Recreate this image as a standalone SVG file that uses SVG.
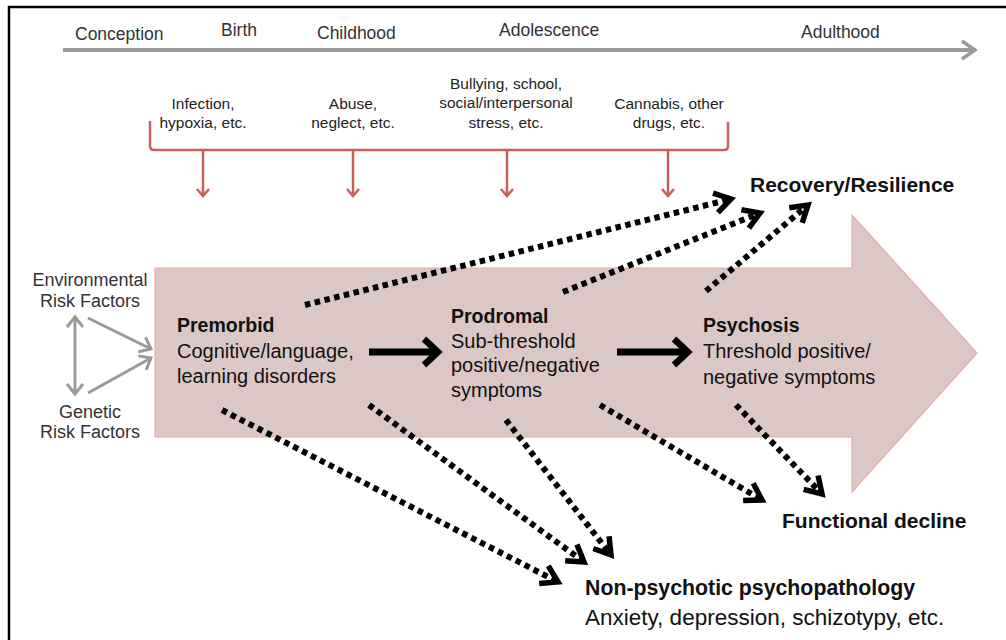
<svg xmlns="http://www.w3.org/2000/svg" width="1006" height="640" viewBox="0 0 1006 640">
<style>
text{font-family:"Liberation Sans",Arial,sans-serif;fill:#111}
.tl{font-size:17.5px;fill:#333}
.sm{font-size:15.5px;fill:#222;text-anchor:middle}
.rf{font-size:18px;fill:#333;text-anchor:middle}
.nt{font-size:19.5px;font-weight:bold}
.nb{font-size:20px}
.ot{font-size:21px;font-weight:bold}
.np{font-size:21.3px;font-weight:bold}
.ob{font-size:22.5px}
.dot{stroke:#000;stroke-width:6;stroke-dasharray:5.5 4.5;fill:none;marker-end:url(#chevK)}
.solid{stroke:#000;stroke-width:7;fill:none}
.red{stroke:#c8605a;stroke-width:2.5;fill:none}
.gray{stroke:#9a9a9a;stroke-width:3;fill:none}
</style>
<defs>
<marker id="chevK" markerUnits="userSpaceOnUse" markerWidth="40" markerHeight="40" refX="20" refY="20" orient="auto" overflow="visible">
<path d="M4 10 L20 20 L4 30" stroke="#000" stroke-width="5.5" fill="none" stroke-dasharray="none"/>
</marker>
<marker id="chevBig" markerUnits="userSpaceOnUse" markerWidth="40" markerHeight="40" refX="20" refY="20" orient="auto" overflow="visible">
<path d="M6 7 L20 20 L6 33" stroke="#000" stroke-width="6.5" fill="none"/>
</marker>
<marker id="chevR" markerUnits="userSpaceOnUse" markerWidth="20" markerHeight="20" refX="10" refY="10" orient="auto" overflow="visible">
<path d="M3 4 L10 10 L3 16" stroke="#c8605a" stroke-width="2.5" fill="none"/>
</marker>
<marker id="chevG" markerUnits="userSpaceOnUse" markerWidth="24" markerHeight="24" refX="12" refY="12" orient="auto" overflow="visible">
<path d="M2 4 L12 12 L2 20" stroke="#9a9a9a" stroke-width="3" fill="none"/>
</marker>
<marker id="chevT" markerUnits="userSpaceOnUse" markerWidth="24" markerHeight="24" refX="14" refY="12" orient="auto" overflow="visible">
<path d="M1 3 L14 12 L1 21" stroke="#9a9a9a" stroke-width="3.5" fill="none"/>
</marker>
<marker id="chevG2" markerUnits="userSpaceOnUse" markerWidth="24" markerHeight="24" refX="12" refY="12" orient="auto-start-reverse" overflow="visible">
<path d="M2 4 L12 12 L2 20" stroke="#9a9a9a" stroke-width="3" fill="none"/>
</marker>
</defs>

<g id="frame">
<line x1="9" y1="6" x2="9" y2="640" stroke="#000" stroke-width="2.5"/>
<line x1="8" y1="7" x2="1006" y2="7" stroke="#000" stroke-width="2.5"/>
</g>

<g id="big-arrow">
<path d="M155 268 L852 268 L852 215 L977 353 L852 492 L852 437 L155 437 Z" fill="#dbc7c6" stroke="#e9aaa8" stroke-width="1.2"/>
</g>

<g id="timeline">
<line x1="63" y1="50" x2="975" y2="50" stroke="#9a9a9a" stroke-width="4" marker-end="url(#chevT)"/>
<text class="tl" x="75" y="40">Conception</text>
<text class="tl" x="221" y="36">Birth</text>
<text class="tl" x="317" y="39">Childhood</text>
<text class="tl" x="499" y="36">Adolescence</text>
<text class="tl" x="801" y="38">Adulthood</text>
</g>

<g id="env-factors">
<text class="sm" x="203" y="109">Infection,</text>
<text class="sm" x="203" y="128">hypoxia, etc.</text>
<text class="sm" x="353" y="109">Abuse,</text>
<text class="sm" x="353" y="128">neglect, etc.</text>
<text class="sm" x="506" y="89">Bullying, school,</text>
<text class="sm" x="506" y="108">social/interpersonal</text>
<text class="sm" x="506" y="128">stress, etc.</text>
<text class="sm" x="669" y="109">Cannabis, other</text>
<text class="sm" x="669" y="128">drugs, etc.</text>
<path class="red" d="M150 121 L150 146 Q150 150 154 150 L724 150 Q728 150 728 146 L728 122"/>
</g>

<g id="risk-factors">
<text class="rf" x="90" y="286">Environmental</text>
<text class="rf" x="90" y="307">Risk Factors</text>
<text class="rf" x="90" y="418">Genetic</text>
<text class="rf" x="90" y="438">Risk Factors</text>
</g>

<g id="premorbid">
<text class="nt" x="177" y="332">Premorbid</text>
<text class="nb" x="177" y="358">Cognitive/language,</text>
<text class="nb" x="177" y="383">learning disorders</text>
</g>

<g id="prodromal">
<text class="nt" x="451" y="323">Prodromal</text>
<text class="nb" x="451" y="348">Sub-threshold</text>
<text class="nb" x="451" y="372">positive/negative</text>
<text class="nb" x="451" y="397">symptoms</text>
</g>

<g id="psychosis">
<text class="nt" x="703" y="332">Psychosis</text>
<text class="nb" x="703" y="358">Threshold positive/</text>
<text class="nb" x="703" y="384">negative symptoms</text>
</g>

<g id="recovery">
<text class="ot" x="750" y="192">Recovery/Resilience</text>
</g>

<g id="functional-decline">
<text class="ot" x="782" y="528">Functional decline</text>
</g>

<g id="non-psychotic">
<text class="np" x="585" y="595">Non-psychotic psychopathology</text>
<text class="ob" x="585" y="625">Anxiety, depression, schizotypy, etc.</text>
</g>

<g id="connectors">
<line class="red" x1="203" y1="150" x2="203" y2="196" marker-end="url(#chevR)"/>
<line class="red" x1="353" y1="150" x2="353" y2="196" marker-end="url(#chevR)"/>
<line class="red" x1="507" y1="150" x2="507" y2="196" marker-end="url(#chevR)"/>
<line class="red" x1="668" y1="150" x2="668" y2="196" marker-end="url(#chevR)"/>

<line class="gray" x1="75" y1="317" x2="75" y2="394" marker-start="url(#chevG2)" marker-end="url(#chevG2)"/>
<line class="gray" x1="88" y1="318" x2="151" y2="349" marker-end="url(#chevG)"/>
<line class="gray" x1="88" y1="393" x2="151" y2="358" marker-end="url(#chevG)"/>

<line class="solid" x1="369" y1="352" x2="438" y2="352" marker-end="url(#chevBig)"/>
<line class="solid" x1="617" y1="352" x2="688" y2="352" marker-end="url(#chevBig)"/>

<line class="dot" x1="305" y1="305" x2="731" y2="199"/>
<line class="dot" x1="563" y1="292" x2="760" y2="213"/>
<line class="dot" x1="706" y1="291" x2="808" y2="205"/>
<line class="dot" x1="222" y1="410" x2="558" y2="582"/>
<line class="dot" x1="369" y1="405" x2="584" y2="562"/>
<line class="dot" x1="506" y1="420" x2="611" y2="555"/>
<line class="dot" x1="600" y1="405" x2="762" y2="500"/>
<line class="dot" x1="736" y1="405" x2="822" y2="494"/>
</g>
</svg>
